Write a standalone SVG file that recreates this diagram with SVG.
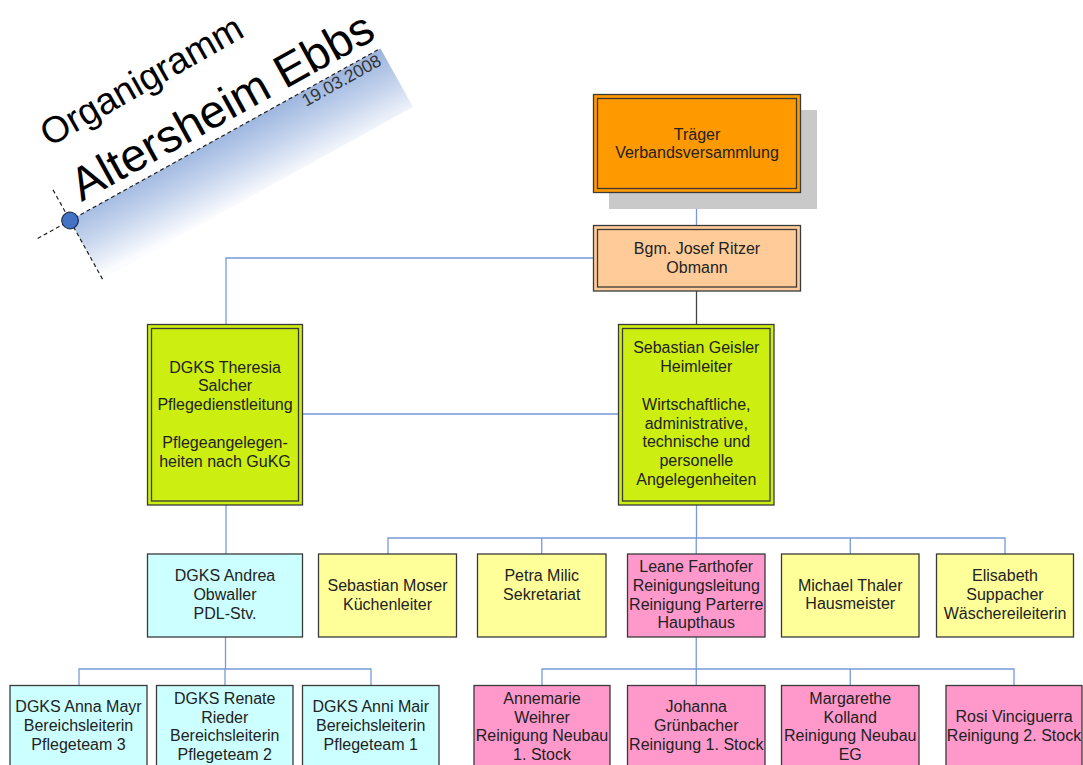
<svg xmlns="http://www.w3.org/2000/svg" width="1083" height="765" viewBox="0 0 1083 765">
<defs>
<linearGradient id="titleGrad" x1="0.55" y1="0" x2="0.35" y2="1">
<stop offset="0" stop-color="#9FB7E0"/>
<stop offset="0.5" stop-color="#C9D7EE"/>
<stop offset="1" stop-color="#FBFCFE"/>
</linearGradient>
<style>
.t{font-family:"Liberation Sans",Arial,sans-serif;font-size:16px;fill:#222;text-anchor:middle}
.box{stroke:#3a3a3a;stroke-width:1.3}
.inner{fill:none;stroke:#3a3a3a;stroke-width:1.3}
.cyan{fill:#CCFFFF}.yellow{fill:#FFFF99}.pink{fill:#FF99CC}.green{fill:#CCEE11}
.conn{fill:none;stroke:#779AD6;stroke-width:1.3}
.dash{fill:none;stroke:#222;stroke-width:1.2;stroke-dasharray:4 3}
</style>
</defs>
<rect width="1083" height="765" fill="#FFFFFF"/>

<g id="title">
<g transform="translate(70,220.5) rotate(-29)">
<rect x="0" y="0" width="355" height="67" fill="url(#titleGrad)"/>
<line class="dash" x1="-37" y1="0" x2="355" y2="0"/>
<line class="dash" x1="0" y1="-35" x2="0" y2="67"/>
<circle cx="0" cy="0" r="8.3" fill="#4472C4" stroke="#1f2f50" stroke-width="1.2"/>
<text x="19" y="-10.5" font-family="'Liberation Sans',Arial,sans-serif" font-size="46.5" fill="#000">Altersheim Ebbs</text>
<text x="349" y="15" font-family="'Liberation Sans',Arial,sans-serif" font-size="17.5" fill="#333" text-anchor="end">19.03.2008</text>
</g>
<g transform="translate(70,220.5) rotate(-29.5)">
<text x="18" y="-74" font-family="'Liberation Sans',Arial,sans-serif" font-size="37" fill="#000">Organigramm</text>
</g>
</g>

<g id="connectors">
<path class="conn" d="M696.5,193 V225"/>
<path d="M696.5,291 V324" fill="none" stroke="#444" stroke-width="1.3"/>
<path class="conn" d="M593.5,258 H226 V324"/>
<path class="conn" d="M302.5,414 H618.5"/>
<path class="conn" d="M226,505 V554"/>
<path class="conn" d="M696.5,505 V538"/>
<path class="conn" d="M388,554 V538 H1005 V554"/>
<path class="conn" d="M541.75,538 V554 M696.25,538 V554 M850.25,538 V554"/>
<path class="conn" d="M225.5,637 V669"/>
<path class="conn" d="M79,685 V669 H371 V685 M225,669 V685"/>
<path class="conn" d="M696.25,637 V669"/>
<path class="conn" d="M542,685 V669 H1014 V685 M696.25,669 V685 M850.25,669 V685"/>
</g>

<g id="traeger">
<rect x="609" y="110" width="208" height="99" fill="#C9C9C9"/>
<rect class="box" x="593.5" y="94.5" width="207" height="98" fill="#FF9900"/>
<rect class="inner" x="597.5" y="98.5" width="199" height="90"/>
<text class="t"><tspan x="697" y="139.6">Träger</tspan><tspan x="697" y="158.4">Verbandsversammlung</tspan></text>
</g>

<g id="obmann">
<rect class="box" x="593.5" y="225.5" width="207" height="65.5" fill="#FFCC99"/>
<rect class="inner" x="597.5" y="229.5" width="199" height="57.5"/>
<text class="t"><tspan x="697" y="254.1">Bgm. Josef Ritzer</tspan><tspan x="697" y="272.9">Obmann</tspan></text>
</g>

<g id="pdl">
<rect class="box green" x="147.5" y="324.5" width="155" height="180.5"/>
<rect class="inner" x="151.5" y="328.5" width="147" height="172.5"/>
<text class="t"><tspan x="225" y="372.5">DGKS Theresia</tspan><tspan x="225" y="391.3">Salcher</tspan><tspan x="225" y="410.1">Pflegedienstleitung</tspan><tspan x="225" y="447.7">Pflegeangelegen-</tspan><tspan x="225" y="466.5">heiten nach GuKG</tspan></text>
</g>

<g id="heimleiter">
<rect class="box green" x="618.5" y="324.5" width="155.5" height="180.5"/>
<rect class="inner" x="622.5" y="328.5" width="147.5" height="172.5"/>
<text class="t"><tspan x="696.3" y="353.4">Sebastian Geisler</tspan><tspan x="696.3" y="372.2">Heimleiter</tspan><tspan x="696.3" y="409.8">Wirtschaftliche,</tspan><tspan x="696.3" y="428.6">administrative,</tspan><tspan x="696.3" y="447.4">technische und</tspan><tspan x="696.3" y="466.2">personelle</tspan><tspan x="696.3" y="485">Angelegenheiten</tspan></text>
</g>

<g id="andrea">
<rect class="box cyan" x="147.5" y="554" width="155" height="83"/>
<text class="t"><tspan x="225" y="581.2">DGKS Andrea</tspan><tspan x="225" y="600">Obwaller</tspan><tspan x="225" y="618.8">PDL-Stv.</tspan></text>
</g>

<g id="moser">
<rect class="box yellow" x="318.5" y="554" width="138" height="83"/>
<text class="t"><tspan x="387.5" y="591.1">Sebastian Moser</tspan><tspan x="387.5" y="609.9">Küchenleiter</tspan></text>
</g>

<g id="milic">
<rect class="box yellow" x="477.5" y="554" width="128.5" height="83"/>
<text class="t"><tspan x="541.75" y="581.2">Petra Milic</tspan><tspan x="541.75" y="600">Sekretariat</tspan></text>
</g>

<g id="farthofer">
<rect class="box pink" x="627.5" y="554" width="137.5" height="83"/>
<text class="t"><tspan x="696.25" y="572.2">Leane Farthofer</tspan><tspan x="696.25" y="590.9">Reinigungsleitung</tspan><tspan x="696.25" y="609.6">Reinigung Parterre</tspan><tspan x="696.25" y="628.3">Haupthaus</tspan></text>
</g>

<g id="thaler">
<rect class="box yellow" x="781.5" y="554" width="137.5" height="83"/>
<text class="t"><tspan x="850.25" y="590.5">Michael Thaler</tspan><tspan x="850.25" y="609.3">Hausmeister</tspan></text>
</g>

<g id="suppacher">
<rect class="box yellow" x="936.5" y="554" width="137" height="83"/>
<text class="t"><tspan x="1005" y="580.5">Elisabeth</tspan><tspan x="1005" y="599.5">Suppacher</tspan><tspan x="1005" y="618.5">Wäschereileiterin</tspan></text>
</g>

<g id="mayr">
<rect class="box cyan" x="10" y="685.5" width="137" height="85"/>
<text class="t"><tspan x="78.5" y="712.2">DGKS Anna Mayr</tspan><tspan x="78.5" y="731">Bereichsleiterin</tspan><tspan x="78.5" y="749.8">Pflegeteam 3</tspan></text>
</g>

<g id="rieder">
<rect class="box cyan" x="156.5" y="685.5" width="136.5" height="85"/>
<text class="t"><tspan x="224.75" y="703.8">DGKS Renate</tspan><tspan x="224.75" y="722.6">Rieder</tspan><tspan x="224.75" y="741.4">Bereichsleiterin</tspan><tspan x="224.75" y="760.2">Pflegeteam 2</tspan></text>
</g>

<g id="mair">
<rect class="box cyan" x="302.5" y="685.5" width="136.5" height="85"/>
<text class="t"><tspan x="370.75" y="712.2">DGKS Anni Mair</tspan><tspan x="370.75" y="731">Bereichsleiterin</tspan><tspan x="370.75" y="749.8">Pflegeteam 1</tspan></text>
</g>

<g id="weihrer">
<rect class="box pink" x="474" y="685.5" width="136" height="85"/>
<text class="t"><tspan x="542" y="703.8">Annemarie</tspan><tspan x="542" y="722.6">Weihrer</tspan><tspan x="542" y="741.4">Reinigung Neubau</tspan><tspan x="542" y="760.2">1. Stock</tspan></text>
</g>

<g id="gruenbacher">
<rect class="box pink" x="627.5" y="685.5" width="137.5" height="85"/>
<text class="t"><tspan x="696.25" y="712.2">Johanna</tspan><tspan x="696.25" y="731">Grünbacher</tspan><tspan x="696.25" y="749.8">Reinigung 1. Stock</tspan></text>
</g>

<g id="kolland">
<rect class="box pink" x="781.5" y="685.5" width="137.5" height="85"/>
<text class="t"><tspan x="850.25" y="703.8">Margarethe</tspan><tspan x="850.25" y="722.6">Kolland</tspan><tspan x="850.25" y="741.4">Reinigung Neubau</tspan><tspan x="850.25" y="760.2">EG</tspan></text>
</g>

<g id="vinciguerra">
<rect class="box pink" x="946" y="685.5" width="136" height="85"/>
<text class="t"><tspan x="1014" y="722.2">Rosi Vinciguerra</tspan><tspan x="1014" y="741">Reinigung 2. Stock</tspan></text>
</g>
</svg>
